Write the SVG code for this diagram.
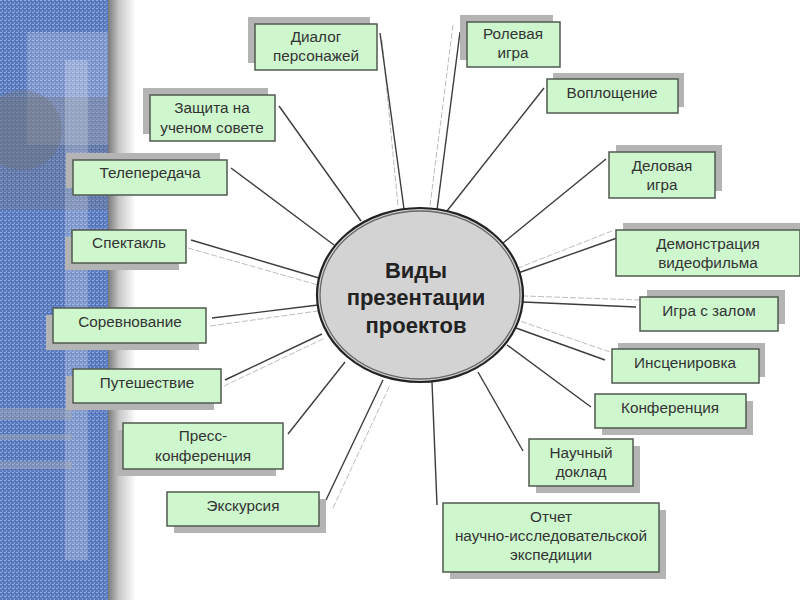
<svg xmlns="http://www.w3.org/2000/svg" width="800" height="600" viewBox="0 0 800 600">
<defs>
<pattern id="fabric" width="4" height="4" patternUnits="userSpaceOnUse">
<rect width="4" height="4" fill="#5a7bc0"/>
<rect x="0" y="0" width="2" height="1" fill="#8fa9dc"/>
<rect x="2" y="2" width="1" height="2" fill="#7f9ad2"/>
<rect x="3" y="1" width="1" height="1" fill="#4667aa"/>
</pattern>
<linearGradient id="edge" x1="0" y1="0" x2="1" y2="0">
<stop offset="0" stop-color="#7a7a7a"/>
<stop offset="0.4" stop-color="#c8c8c8"/>
<stop offset="1" stop-color="#ffffff"/>
</linearGradient>
</defs>
<style>
.box rect.b{fill:#cef7ce;stroke:#505a50;stroke-width:1.5}
.box rect.s{fill:#b4b4b4}
.box text{font-family:"Liberation Sans",Arial,sans-serif;font-size:15.3px;fill:#333;text-anchor:middle}
.c line.m{stroke:#3c3c3c;stroke-width:1.4}
.c line.l{stroke:#bdbdbd;stroke-width:1;stroke-dasharray:6 2}
.ct{font-family:"Liberation Sans",Arial,sans-serif;font-size:22px;font-weight:bold;fill:#222;text-anchor:middle}
</style>
<rect width="800" height="600" fill="#ffffff"/>
<g id="background">
<rect x="0" y="0" width="108" height="600" fill="url(#fabric)"/>
<rect x="27" y="32" width="81" height="113" fill="#ffffff" opacity="0.2"/>
<rect x="0" y="97" width="108" height="113" fill="#707078" opacity="0.3"/>
<circle cx="22" cy="130" r="40" fill="#707070" opacity="0.35"/>
<rect x="65" y="60" width="23" height="500" fill="#ffffff" opacity="0.22"/>
<rect x="0" y="408" width="72" height="12" fill="#b0b0b0" opacity="0.4"/>
<rect x="0" y="434" width="72" height="6" fill="#b0b0b0" opacity="0.4"/>
<rect x="0" y="461" width="72" height="8" fill="#b0b0b0" opacity="0.4"/>
<rect x="108" y="0" width="28" height="600" fill="url(#edge)"/>
</g>
<g id="connectors" class="c">
<line class="l" x1="382" y1="40" x2="398" y2="206"/>
<line class="m" x1="380" y1="33" x2="404" y2="209"/>
<line class="l" x1="453" y1="25" x2="430" y2="206"/>
<line class="m" x1="460" y1="32" x2="437" y2="210"/>
<line class="m" x1="544" y1="88" x2="447" y2="211"/>
<line class="m" x1="606" y1="159" x2="503" y2="243"/>
<line class="l" x1="612" y1="231" x2="518" y2="268"/>
<line class="m" x1="617" y1="238" x2="518" y2="273"/>
<line class="l" x1="640" y1="300" x2="524" y2="296"/>
<line class="m" x1="636" y1="307" x2="523" y2="302"/>
<line class="l" x1="610" y1="352" x2="520" y2="321"/>
<line class="m" x1="605" y1="360" x2="516" y2="328"/>
<line class="m" x1="591" y1="407" x2="507" y2="345"/>
<line class="m" x1="523" y1="451" x2="478" y2="372"/>
<line class="m" x1="432" y1="382" x2="437" y2="505"/>
<line class="l" x1="333" y1="508" x2="390" y2="385"/>
<line class="m" x1="326" y1="500" x2="383" y2="380"/>
<line class="m" x1="288" y1="434" x2="345" y2="362"/>
<line class="l" x1="224" y1="386" x2="325" y2="338"/>
<line class="m" x1="225" y1="380" x2="322" y2="334"/>
<line class="l" x1="210" y1="326" x2="318" y2="311"/>
<line class="m" x1="212" y1="318" x2="318" y2="305"/>
<line class="l" x1="188" y1="248" x2="318" y2="285"/>
<line class="m" x1="191" y1="240" x2="319" y2="278"/>
<line class="m" x1="231" y1="168" x2="334" y2="245"/>
<line class="m" x1="279" y1="106" x2="361" y2="221"/>
</g>
<g id="center">
<ellipse cx="420" cy="295" rx="103" ry="87" fill="#d3d3d3" stroke="#222" stroke-width="2.2"/>
<ellipse cx="420" cy="295" rx="100" ry="84" fill="none" stroke="#666" stroke-width="1.3"/>
<text class="ct" x="416" y="278">Виды</text>
<text class="ct" x="416" y="305">презентации</text>
<text class="ct" x="416" y="333">проектов</text>
</g>
<g id="n-dialog" class="box"><rect class="s" x="248" y="17" width="122" height="46"/><rect class="b" x="255" y="24" width="122" height="46"/><text x="316" y="42">Диалог</text><text x="316" y="61">персонажей</text></g>
<g id="n-role" class="box"><rect class="s" x="460" y="15" width="93" height="45"/><rect class="b" x="467" y="22" width="93" height="45"/><text x="513" y="39">Ролевая</text><text x="513" y="58">игра</text></g>
<g id="n-voplosh" class="box"><rect class="s" x="553" y="73" width="131" height="34"/><rect class="b" x="547" y="79" width="131" height="34"/><text x="612" y="98">Воплощение</text></g>
<g id="n-delovaya" class="box"><rect class="s" x="616" y="145" width="106" height="46"/><rect class="b" x="609" y="152" width="106" height="46"/><text x="662" y="171">Деловая</text><text x="662" y="190">игра</text></g>
<g id="n-demo" class="box"><rect class="s" x="623" y="223" width="184" height="46"/><rect class="b" x="616" y="230" width="184" height="46"/><text x="708" y="249">Демонстрация</text><text x="708" y="268">видеофильма</text></g>
<g id="n-igra" class="box"><rect class="s" x="647" y="290" width="138" height="34"/><rect class="b" x="640" y="297" width="138" height="34"/><text x="709" y="316">Игра с залом</text></g>
<g id="n-insc" class="box"><rect class="s" x="618" y="343" width="147" height="34"/><rect class="b" x="612" y="349" width="147" height="34"/><text x="685" y="368">Инсценировка</text></g>
<g id="n-konf" class="box"><rect class="s" x="602" y="401" width="151" height="34"/><rect class="b" x="595" y="394" width="151" height="34"/><text x="670" y="413">Конференция</text></g>
<g id="n-nauch" class="box"><rect class="s" x="536" y="446" width="104" height="47"/><rect class="b" x="529" y="439" width="104" height="47"/><text x="581" y="458">Научный</text><text x="581" y="477">доклад</text></g>
<g id="n-otchet" class="box"><rect class="s" x="450" y="510" width="216" height="69"/><rect class="b" x="443" y="503" width="216" height="69"/><text x="551" y="522">Отчет</text><text x="551" y="541">научно-исследовательской</text><text x="551" y="560">экспедиции</text></g>
<g id="n-ekskurs" class="box"><rect class="s" x="174" y="499" width="152" height="34"/><rect class="b" x="167" y="492" width="152" height="34"/><text x="243" y="511">Экскурсия</text></g>
<g id="n-press" class="box"><rect class="s" x="116" y="430" width="160" height="46"/><rect class="b" x="123" y="423" width="160" height="46"/><text x="203" y="441">Пресс-</text><text x="203" y="461">конференция</text></g>
<g id="n-putesh" class="box"><rect class="s" x="66" y="376" width="148" height="34"/><rect class="b" x="73" y="369" width="148" height="34"/><text x="147" y="388">Путешествие</text></g>
<g id="n-sorevn" class="box"><rect class="s" x="46" y="315" width="153" height="35"/><rect class="b" x="53" y="308" width="153" height="35"/><text x="130" y="327">Соревнование</text></g>
<g id="n-spekt" class="box"><rect class="s" x="65" y="237" width="114" height="33"/><rect class="b" x="72" y="230" width="114" height="33"/><text x="129" y="248">Спектакль</text></g>
<g id="n-tele" class="box"><rect class="s" x="66" y="153" width="154" height="35"/><rect class="b" x="73" y="160" width="154" height="35"/><text x="150" y="178">Телепередача</text></g>
<g id="n-zashita" class="box"><rect class="s" x="143" y="88" width="125" height="46"/><rect class="b" x="150" y="95" width="125" height="46"/><text x="212" y="113">Защита на</text><text x="212" y="133">ученом совете</text></g>
</svg>
